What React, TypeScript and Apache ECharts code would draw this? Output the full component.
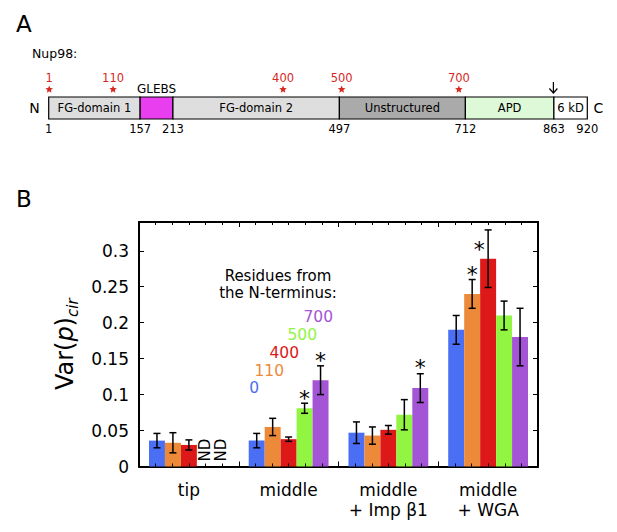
import React, { useEffect, useRef } from "react";
import * as echarts from "echarts";

// ---------- Panel A data (Nup98 domain map) ----------
const domainStarts = [1, 157, 213, 497, 712, 863];
const domainEnds = [157, 213, 497, 712, 863, 920];
const domainNames = ["FG-domain 1", "GLEBS", "FG-domain 2", "Unstructured", "APD", "6 kD"];
const boundaryTicks = [1, 157, 213, 497, 712, 863, 920];
const markedResidues = [1, 110, 400, 500, 700];
const cleavageSites = [863];

// ---------- Panel B data ----------
const conditions = ["tip", "middle", "middle\n+ Imp β1", "middle\n+ WGA"];
const residueLabels = ["0", "110", "400", "500", "700"];
const var0 = [0.036, 0.036, 0.047, 0.19];
const var110 = [0.033, 0.055, 0.043, 0.24];
const var400 = [0.03, 0.038, 0.051, 0.289];
const var500 = [null, 0.081, 0.072, 0.21];
const var700 = [null, 0.12, 0.109, 0.18];
const err0 = [0.01, 0.01, 0.015, 0.02];
const err110 = [0.014, 0.012, 0.012, 0.02];
const err400 = [0.007, 0.003, 0.006, 0.04];
const err500 = [null, 0.007, 0.021, 0.02];
const err700 = [null, 0.02, 0.02, 0.04];
// significance stars: level (data units) where the star sits, null = none
const star0 = [null, null, null, null];
const star110 = [null, null, null, 0.274];
const star400 = [null, null, null, 0.309];
const star500 = [null, 0.102, null, null];
const star700 = [null, 0.155, 0.144, null];
// star placed beside the error bar instead of above it
const starBeside400 = [false, false, false, true];
const starBesideNone = [false, false, false, false];
const yTicks = ["0", "0.05", "0.1", "0.15", "0.2", "0.25", "0.3"];

const FONT = "'DejaVu Sans', 'Liberation Sans', Arial, sans-serif";
const domainColors = ["#dedede", "#e83ef0", "#dedede", "#aaaaaa", "#ddf9d8", "#ffffff"];
const barColors = ["#4a6ef4", "#ec8a3a", "#dc1818", "#92f542", "#a455d6"];
const RED = "#d6281e";

function starPoints(cx: number, cy: number, r: number) {
  const pts: number[][] = [];
  for (let k = 0; k < 10; k++) {
    const rr = k % 2 === 0 ? r : r * 0.45;
    const a = -Math.PI / 2 + (k * Math.PI) / 5;
    pts.push([cx + rr * Math.cos(a), cy + rr * Math.sin(a)]);
  }
  return pts;
}

export default function App() {
  const ref = useRef<HTMLDivElement>(null);

  useEffect(() => {
    document.body.style.margin = "0";
    const chart = echarts.init(ref.current!, null, { renderer: "svg" });

    const values = [var0, var110, var400, var500, var700];
    const errors = [err0, err110, err400, err500, err700];
    const stars = [star0, star110, star400, star500, star700];
    const beside = [starBesideNone, starBesideNone, starBeside400, starBesideNone, starBesideNone];

    const errData: number[][] = [];
    const ndData: number[][] = [];
    values.forEach((arr, s) => {
      arr.forEach((v, c) => {
        if (v == null) {
          ndData.push([c, s]);
        } else {
          const st = stars[s][c];
          errData.push([c, v, errors[s][c] as number, s, st == null ? -1 : st, beside[s][c] ? 1 : 0]);
        }
      });
    });

    const txt = (text: string, x: number, y: number, size: number, fill = "#000", align = "center") => ({
      type: "text",
      x,
      y,
      style: { text, fontSize: size, fontFamily: FONT, fill, align, verticalAlign: "middle" },
    });

    const option: any = {
      animation: false,
      backgroundColor: "#fff",
      textStyle: { fontFamily: FONT },
      grid: [
        { left: 48.7, right: 29.7, top: 97, height: 22 },
        { left: 139, right: 79, top: 222, bottom: 65.5 },
      ],
      xAxis: [
        { gridIndex: 0, type: "value", min: 1, max: 920, show: false },
        {
          gridIndex: 1,
          type: "category",
          data: conditions,
          position: "bottom",
          axisLine: { show: true, onZero: false, lineStyle: { color: "#000", width: 2 } },
          axisTick: { show: false },
          axisLabel: { color: "#000", fontSize: 17, lineHeight: 20, margin: 13, fontFamily: FONT, interval: 0 },
          splitLine: { show: false },
        },
        {
          gridIndex: 1,
          type: "value",
          position: "top",
          min: 0,
          max: 24,
          interval: 6,
          axisLine: { show: true, onZero: false, lineStyle: { color: "#000", width: 2 } },
          axisTick: { show: true, inside: true, length: 5, lineStyle: { color: "#000", width: 1 } },
          minorTick: { show: true, splitNumber: 6, length: 3, lineStyle: { color: "#000", width: 1 } },
          axisLabel: { show: false },
          splitLine: { show: false },
        },
        {
          gridIndex: 1,
          type: "value",
          position: "bottom",
          min: 0,
          max: 24,
          interval: 6,
          z: 5,
          axisLine: { show: false, onZero: false },
          axisTick: { show: true, inside: true, length: 5, lineStyle: { color: "#000", width: 1 } },
          minorTick: { show: true, splitNumber: 6, length: 3, lineStyle: { color: "#000", width: 1 } },
          axisLabel: { show: false },
          splitLine: { show: false },
        },
      ],
      yAxis: [
        { gridIndex: 0, type: "value", min: 0, max: 1, show: false },
        {
          gridIndex: 1,
          type: "value",
          position: "left",
          min: 0,
          max: 0.34,
          interval: 0.05,
          axisLine: { show: true, onZero: false, lineStyle: { color: "#000", width: 2 } },
          axisTick: { show: true, inside: true, length: 5, lineStyle: { color: "#000", width: 1 } },
          axisLabel: {
            color: "#000",
            fontSize: 17,
            margin: 10,
            fontFamily: FONT,
            showMaxLabel: false,
            formatter: (v: number) => {
              const i = Math.round(v / 0.05);
              return i >= 0 && i < yTicks.length ? yTicks[i] : "";
            },
          },
          splitLine: { show: false },
          name: "{n|Var(}{i|p}{n|)}{s|cir}",
          nameLocation: "middle",
          nameGap: 58,
          nameRotate: 90,
          nameTextStyle: {
            rich: {
              n: { fontSize: 24, fontFamily: FONT, color: "#000", lineHeight: 30 },
              i: { fontSize: 24, fontFamily: FONT, fontStyle: "italic", color: "#000", lineHeight: 30 },
              s: {
                fontSize: 15,
                fontFamily: FONT,
                fontStyle: "italic",
                color: "#000",
                lineHeight: 14,
                verticalAlign: "bottom",
              },
            },
          },
        },
        {
          gridIndex: 1,
          type: "value",
          position: "right",
          min: 0,
          max: 0.34,
          interval: 0.05,
          axisLine: { show: true, onZero: false, lineStyle: { color: "#000", width: 2 } },
          axisTick: { show: true, inside: true, length: 5, lineStyle: { color: "#000", width: 1 } },
          axisLabel: { show: false },
          splitLine: { show: false },
        },
      ],
      graphic: [
        txt("A", 16, 24, 23, "#000", "left"),
        txt("B", 16, 199, 23, "#000", "left"),
        txt("Nup98:", 32, 53, 12.5, "#000", "left"),
        txt("N", 34.5, 108, 14),
        txt("C", 598.5, 108, 14),
        {
          type: "text",
          x: 278,
          y: 284.5,
          style: {
            text: "Residues from\nthe N-terminus:",
            fontSize: 15,
            lineHeight: 17,
            fontFamily: FONT,
            fill: "#000",
            align: "center",
            verticalAlign: "middle",
          },
        },
        txt(residueLabels[4], 333, 317, 15.5, barColors[4], "right"),
        txt(residueLabels[3], 317, 335, 15.5, barColors[3], "right"),
        txt(residueLabels[2], 299, 353, 15.5, barColors[2], "right"),
        txt(residueLabels[1], 284, 371, 15.5, barColors[1], "right"),
        txt(residueLabels[0], 259, 388, 15.5, barColors[0], "right"),
      ],
      series: [
        // ---- Panel A: domains ----
        {
          type: "custom",
          xAxisIndex: 0,
          yAxisIndex: 0,
          clip: false,
          data: domainStarts.map((s, i) => [s, domainEnds[i], i]),
          encode: { x: [0, 1] },
          renderItem: (params: any, api: any) => {
            const i = api.value(2);
            const p0 = api.coord([api.value(0), 1]);
            const p1 = api.coord([api.value(1), 0]);
            const cx = (p0[0] + p1[0]) / 2;
            const children: any[] = [
              {
                type: "rect",
                shape: { x: p0[0], y: p0[1], width: p1[0] - p0[0], height: p1[1] - p0[1] },
                style: { fill: domainColors[i], stroke: "#000", lineWidth: 1.2 },
              },
            ];
            if (i === 1) {
              children.push({
                type: "text",
                x: cx,
                y: p0[1] - 8,
                style: { text: domainNames[i], fontSize: 12, fontFamily: FONT, fill: "#000", align: "center", verticalAlign: "middle" },
              });
            } else {
              children.push({
                type: "text",
                x: cx,
                y: (p0[1] + p1[1]) / 2,
                style: { text: domainNames[i], fontSize: 11.5, fontFamily: FONT, fill: "#000", align: "center", verticalAlign: "middle" },
              });
            }
            return { type: "group", children };
          },
          z: 2,
        },
        // ---- Panel A: boundary residue numbers ----
        {
          type: "custom",
          xAxisIndex: 0,
          yAxisIndex: 0,
          clip: false,
          data: boundaryTicks.map((v) => [v]),
          encode: { x: 0 },
          renderItem: (params: any, api: any) => {
            const p = api.coord([api.value(0), 0]);
            return {
              type: "text",
              x: p[0],
              y: p[1] + 9.5,
              style: { text: String(api.value(0)), fontSize: 11.5, fontFamily: FONT, fill: "#000", align: "center", verticalAlign: "middle" },
            };
          },
        },
        // ---- Panel A: marked residues (red) ----
        {
          type: "custom",
          xAxisIndex: 0,
          yAxisIndex: 0,
          clip: false,
          data: markedResidues.map((v) => [v]),
          encode: { x: 0 },
          renderItem: (params: any, api: any) => {
            const p = api.coord([api.value(0), 1]);
            return {
              type: "group",
              children: [
                {
                  type: "text",
                  x: p[0] + 0.5,
                  y: p[1] - 19.5,
                  style: { text: String(api.value(0)), fontSize: 11.5, fontFamily: FONT, fill: RED, align: "center", verticalAlign: "middle" },
                },
                {
                  type: "polygon",
                  shape: { points: starPoints(p[0] + 0.5, p[1] - 7.5, 4) },
                  style: { fill: RED, stroke: "none" },
                },
              ],
            };
          },
        },
        // ---- Panel A: cleavage arrow ----
        {
          type: "custom",
          xAxisIndex: 0,
          yAxisIndex: 0,
          clip: false,
          data: cleavageSites.map((v) => [v]),
          encode: { x: 0 },
          renderItem: (params: any, api: any) => {
            const p = api.coord([api.value(0), 1]);
            const x = p[0] - 0.5;
            const y = p[1];
            return {
              type: "group",
              children: [
                { type: "line", shape: { x1: x, y1: y - 15, x2: x, y2: y - 4 }, style: { stroke: "#000", lineWidth: 1.2 } },
                {
                  type: "polyline",
                  shape: { points: [[x - 4, y - 8.5], [x, y - 4], [x + 4, y - 8.5]] },
                  style: { stroke: "#000", lineWidth: 1.2, fill: "none" },
                },
              ],
            };
          },
        },
        // ---- Panel B: bars ----
        ...residueLabels.map((name, s) => ({
          type: "bar",
          name,
          xAxisIndex: 1,
          yAxisIndex: 1,
          data: values[s],
          barGap: "0%",
          barCategoryGap: "20%",
          itemStyle: { color: barColors[s] },
          z: 2,
        })),
        // ---- Panel B: error bars and stars ----
        {
          type: "custom",
          xAxisIndex: 1,
          yAxisIndex: 1,
          clip: false,
          z: 4,
          data: errData,
          encode: { x: 0, y: 1 },
          renderItem: (params: any, api: any) => {
            const c = api.value(0);
            const v = api.value(1);
            const e = api.value(2);
            const s = api.value(3);
            const st = api.value(4);
            const side = api.value(5);
            const bw = (api.size([1, 0])[0] * 0.8) / 5;
            const cx = api.coord([c, 0])[0] + (s - 2) * bw;
            const yT = api.coord([c, v + e])[1];
            const yB = api.coord([c, v - e])[1];
            const cap = 3.5;
            const ls = { stroke: "#000", lineWidth: 1.5 };
            const children: any[] = [
              { type: "line", shape: { x1: cx, y1: yT, x2: cx, y2: yB }, style: ls },
              { type: "line", shape: { x1: cx - cap, y1: yT, x2: cx + cap, y2: yT }, style: ls },
              { type: "line", shape: { x1: cx - cap, y1: yB, x2: cx + cap, y2: yB }, style: ls },
            ];
            if (st > 0) {
              const sy = api.coord([c, st])[1];
              children.push({
                type: "text",
                x: cx + (side ? -9 : 0),
                y: sy + 5,
                style: { text: "*", fontSize: 22, fontFamily: FONT, fill: "#000", align: "center", verticalAlign: "middle" },
              });
            }
            return { type: "group", children };
          },
        },
        // ---- Panel B: ND markers ----
        {
          type: "custom",
          xAxisIndex: 1,
          yAxisIndex: 1,
          clip: false,
          z: 4,
          data: ndData,
          encode: { x: 0 },
          renderItem: (params: any, api: any) => {
            const c = api.value(0);
            const s = api.value(1);
            const bw = (api.size([1, 0])[0] * 0.8) / 5;
            const p = api.coord([c, 0]);
            return {
              type: "text",
              x: p[0] + (s - 2) * bw,
              y: p[1] - 16.5,
              rotation: Math.PI / 2,
              style: { text: "ND", fontSize: 15, fontFamily: FONT, fill: "#000", align: "center", verticalAlign: "middle" },
            };
          },
        },
      ],
    };

    chart.setOption(option);
    return () => chart.dispose();
  }, []);

  return <div ref={ref} style={{ width: 617, height: 532 }} />;
}
